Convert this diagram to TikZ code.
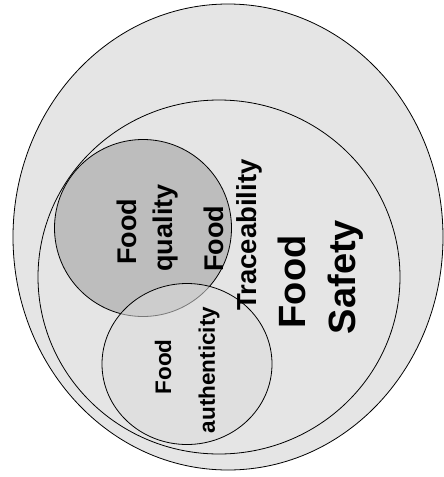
\documentclass[tikz,border=0pt]{standalone}
\usepackage{fontspec}
\setmainfont{Liberation Sans}
\usetikzlibrary{shapes.geometric}
\definecolor{bgfill}{gray}{0.90}
\definecolor{qualfill}{gray}{0.74}
\definecolor{authfill}{gray}{0.86}
\tikzset{
  region/.style={ellipse, draw=black, line width=0.8pt, inner sep=0pt},
  lbl/.style={rotate=90, inner sep=0pt, font=\bfseries, text=black},
}
\begin{document}
\begin{tikzpicture}[x=1pt,y=-1pt]
\useasboundingbox (0,0) rectangle (444,477);
\fill[white] (0,0) rectangle (444,477);
\node[region, fill=bgfill, minimum width=430pt, minimum height=466pt] (outer) at (228,237) {};
\node[region, fill=bgfill, minimum width=362pt, minimum height=354pt] (middle) at (219,277) {};
\node[region, fill=qualfill, minimum width=177pt, minimum height=177pt] (quality) at (143,228) {};
\node[region, fill=authfill, fill opacity=0.55, draw opacity=1, minimum width=170pt, minimum height=161pt] (auth) at (187,364) {};
% labels
\node[lbl, font=\bfseries\fontsize{27}{30}\selectfont] (qfood) at (127,232) {Food};
\node[lbl, font=\bfseries\fontsize{27}{30}\selectfont] (qqual) at (166,228) {quality};
\node[lbl, font=\bfseries\fontsize{27}{30}\selectfont] (tfood) at (214,239) {Food};
\node[lbl, font=\bfseries\fontsize{27.5}{30}\selectfont] (trace) at (249,235) {Traceability};
\node[lbl, font=\bfseries\fontsize{38}{42}\selectfont] (sfood) at (292,282) {Food};
\node[lbl, font=\bfseries\fontsize{38}{42}\selectfont] (safety) at (346,277) {Safety};
\node[lbl, font=\bfseries\fontsize{22.5}{26}\selectfont] (afood) at (163,367) {Food};
\node[lbl, font=\bfseries\fontsize{22.5}{26}\selectfont] (aauth) at (209,370) {authenticity};
\end{tikzpicture}
\end{document}
